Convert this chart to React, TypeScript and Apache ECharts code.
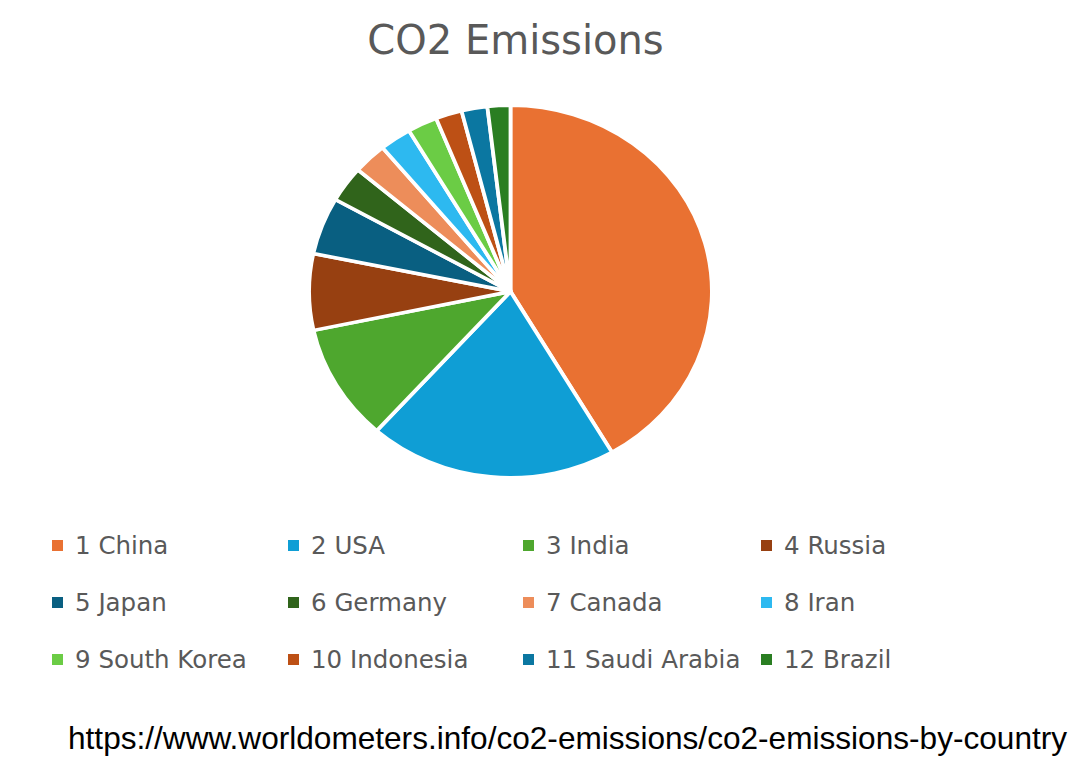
import React, { useEffect, useRef } from "react";
import * as echarts from "echarts";

const countries = [
  "1 China", "2 USA", "3 India", "4 Russia",
  "5 Japan", "6 Germany", "7 Canada", "8 Iran",
  "9 South Korea", "10 Indonesia", "11 Saudi Arabia", "12 Brazil",
];
// CO2 emissions, billion tonnes
const emissions = [10.43, 5.01, 2.53, 1.66, 1.24, 0.78, 0.68, 0.64, 0.6, 0.53, 0.52, 0.46];
const colors = [
  "#E97132", "#0F9ED5", "#4EA72E", "#974011",
  "#095F81", "#30641B", "#ED8D5A", "#2DB9F0",
  "#6BCC45", "#BD5015", "#0B77A1", "#2A7E22",
];
const legendColumns = [
  ["1 China", "5 Japan", "9 South Korea"],
  ["2 USA", "6 Germany", "10 Indonesia"],
  ["3 India", "7 Canada", "11 Saudi Arabia"],
  ["4 Russia", "8 Iran", "12 Brazil"],
];
const titleText = "CO2 Emissions";
const sourceText = "https://www.worldometers.info/co2-emissions/co2-emissions-by-country";

const pieData = countries.map((name, i) => ({
  name,
  value: emissions[i],
  itemStyle: { color: colors[i] },
}));

const CX = 510.5;
const CY = 291.5;
const RY = 184.5;
const RX = 199.5;

export default function App() {
  const mainRef = useRef<HTMLDivElement>(null);
  const pieRef = useRef<HTMLDivElement>(null);

  useEffect(() => {
    const main = echarts.init(mainRef.current!, null, { renderer: "svg" });
    const pie = echarts.init(pieRef.current!, null, { renderer: "svg" });
    const legendX = [52, 288, 523, 761];
    main.setOption({
      animation: false,
      title: {
        text: titleText,
        left: CX,
        textAlign: "center",
        top: 15,
        textStyle: {
          fontFamily: "DejaVu Sans",
          fontSize: 40,
          fontWeight: "normal",
          color: "#595959",
        },
      },
      legend: legendColumns.map((col, i) => ({
        orient: "vertical",
        left: legendX[i],
        top: 533,
        padding: 0,
        itemGap: 32,
        itemWidth: 11,
        itemHeight: 11,
        icon: "rect",
        selectedMode: false,
        data: col,
        textStyle: {
          fontFamily: "DejaVu Sans",
          fontSize: 24.5,
          lineHeight: 25,
          color: "#595959",
          padding: [0, 0, 0, 7],
        },
      })),
      graphic: [
        {
          type: "text",
          x: 68,
          y: 738,
          style: {
            text: sourceText,
            font: "31.6px 'Liberation Sans', Arial, sans-serif",
            fill: "#000000",
            align: "left",
            verticalAlign: "middle",
          },
        },
      ],
      series: [
        {
          type: "pie",
          center: [CX, CY],
          radius: [0, 0],
          silent: true,
          label: { show: false },
          labelLine: { show: false },
          data: pieData,
        },
      ],
    });
    pie.setOption({
      animation: false,
      series: [
        {
          type: "pie",
          center: [CX, CY],
          radius: RY + 1.75,
          startAngle: 90,
          clockwise: true,
          label: { show: false },
          labelLine: { show: false },
          itemStyle: { borderColor: "#ffffff", borderWidth: 3.5 },
          emphasis: { disabled: true },
          data: pieData,
        },
      ],
    });
    return () => {
      main.dispose();
      pie.dispose();
    };
  }, []);

  return (
    <div
      style={{
        position: "fixed",
        left: 0,
        top: 0,
        width: 1074,
        height: 761,
        background: "#ffffff",
        overflow: "hidden",
      }}
    >
      <div ref={mainRef} style={{ position: "absolute", left: 0, top: 0, width: 1074, height: 761 }} />
      <div
        ref={pieRef}
        style={{
          position: "absolute",
          left: 0,
          top: 0,
          width: 1074,
          height: 761,
          transform: `scaleX(${RX / RY})`,
          transformOrigin: `${CX}px ${CY}px`,
          pointerEvents: "none",
        }}
      />
    </div>
  );
}
